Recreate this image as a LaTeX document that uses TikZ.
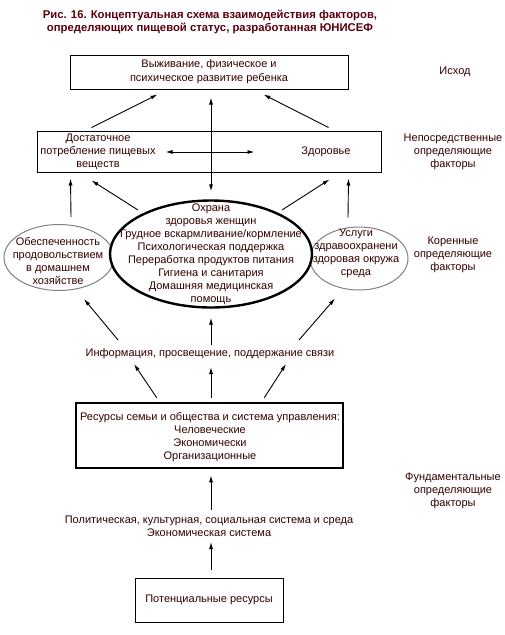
\documentclass[tikz,border=0pt]{standalone}
\usepackage{fontspec}
\setmainfont{Liberation Sans}
\usetikzlibrary{arrows.meta,shapes.geometric}
\definecolor{txtc}{RGB}{51,0,0}
\definecolor{ttlc}{RGB}{90,0,14}
\tikzset{
  lbl/.style={text=txtc, align=center, inner sep=0pt, font=\fontsize{11}{13}\selectfont},
  box/.style={draw, rectangle, inner sep=0pt, line width=1pt},
  ell/.style={draw=gray, ellipse, inner sep=0pt, line width=1pt},
  arr/.style={-{Latex[length=7pt,width=4pt]}, line width=0.9pt},
  dbl/.style={{Latex[length=7pt,width=4pt]}-{Latex[length=7pt,width=4pt]}, line width=0.9pt}
}
\begin{document}
\begin{tikzpicture}[x=1pt,y=-1pt]
  \useasboundingbox (0,0) rectangle (505,635);
  \node[lbl, text=ttlc, font=\bfseries\fontsize{11.3}{13}\selectfont] (title) at (210,22)
    {Рис. 16. Концептуальная схема взаимодействия факторов,\\определяющих пищевой статус, разработанная ЮНИСЕФ};

  \node[box, minimum width=278pt, minimum height=34pt] (out) at (209,72) {};
  \node[lbl, font=\fontsize{11}{14}\selectfont] (outt) at (out) {Выживание, физическое и\\психическое развитие ребенка};
  \node[lbl] (outl) at (455,72) {Исход};

  \node[box, minimum width=344pt, minimum height=41pt] (imm) at (209,151.5) {};
  \node[lbl] (food) at (98,152) {Достаточное\\потребление пищевых\\веществ};
  \node[lbl] (hlth) at (326,152) {Здоровье};
  \node[lbl] (imml) at (453,152) {Непосредственные\\определяющие\\факторы};

  \node[ell, minimum width=110pt, minimum height=66pt] (lft) at (59,257.5) {};
  \node[lbl] (lftt) at (58,261) {Обеспеченность\\продовольствием\\в домашнем\\хозяйстве};
  \node[ell, minimum width=98pt, minimum height=63pt] (rgt) at (359,258.5) {};
  \node[ellipse, draw, fill=white, line width=2.4pt, minimum width=202pt, minimum height=107pt, inner sep=0pt] (mid) at (211,254) {};
  \node[lbl] (midt) at (211,254.5) {Охрана\\здоровья женщин\\Грудное вскармливание/кормление\\Психологическая поддержка\\Переработка продуктов питания\\Гигиена и санитария\\Домашняя медицинская\\помощь};
  \node[lbl] (rgtt) at (356,253.5) {Услуги\\здравоохранени\\здоровая окружа\\среда};
  \node[lbl] (rootl) at (453,255) {Коренные\\определяющие\\факторы};

  \node[lbl] (info) at (210,354) {Информация, просвещение, поддержание связи};

  \node[box, line width=2.6pt, minimum width=267pt, minimum height=65pt] (res) at (209.5,435.5) {};
  \node[lbl] (rest) at (210,437) {Ресурсы семьи и общества и система управления:\\Человеческие\\Экономически\\Организационные};
  \node[lbl] (fundl) at (453,491) {Фундаментальные\\определяющие\\факторы};

  \node[lbl] (pol) at (209,526) {Политическая, культурная, социальная система и среда\\Экономическая система};
  \node[box, minimum width=148pt, minimum height=44pt] (pot) at (209,600) {};
  \node[lbl] (pott) at (pot) {Потенциальные ресурсы};

  \draw[arr] ([shift={(55,-3)}]imm.north west) -- ([shift={(88,5)}]out.south west);
  \draw[arr] ([shift={(-53,-3)}]imm.north east) -- ([shift={(-85,5)}]out.south east);
  \draw[dbl] ([shift={(0,-8)}]mid.north) -- ([shift={(2,8)}]out.south);
  \draw[dbl] ([shift={(129,0.5)}]imm.west) -- ([shift={(218,0.5)}]imm.west);

  \draw[arr] ([shift={(12,-7)}]lft.north) -- ([shift={(34,6)}]imm.south west);
  \draw[arr] ([shift={(-73,-44)}]mid.center) -- ([shift={(55,8)}]imm.south west);
  \draw[arr] ([shift={(71,-44)}]mid.center) -- ([shift={(-52,7)}]imm.south east);
  \draw[arr] ([shift={(-11,-9)}]rgt.north) -- ([shift={(-33,6)}]imm.south east);

  \draw[arr] ([shift={(-92,-14)}]info.center) -- ([shift={(25,8)}]lft.south);
  \draw[arr] ([shift={(1,-9)}]info.center) -- ([shift={(0,9)}]mid.south);
  \draw[arr] ([shift={(89,-14)}]info.center) -- ([shift={(-24,8)}]rgt.south);

  \draw[arr] ([shift={(82,-4)}]res.north west) -- ([shift={(-76,10)}]info.center);
  \draw[arr] ([shift={(1.5,-4)}]res.north) -- ([shift={(1,13)}]info.center);
  \draw[arr] ([shift={(-80,-4)}]res.north east) -- ([shift={(76,10)}]info.center);

  \draw[arr] ([shift={(2,-16)}]pol.center) -- ([shift={(1.5,6)}]res.south);
  \draw[arr] ([shift={(2,-8)}]pot.north) -- ([shift={(2,16)}]pol.center);
\end{tikzpicture}
\end{document}
